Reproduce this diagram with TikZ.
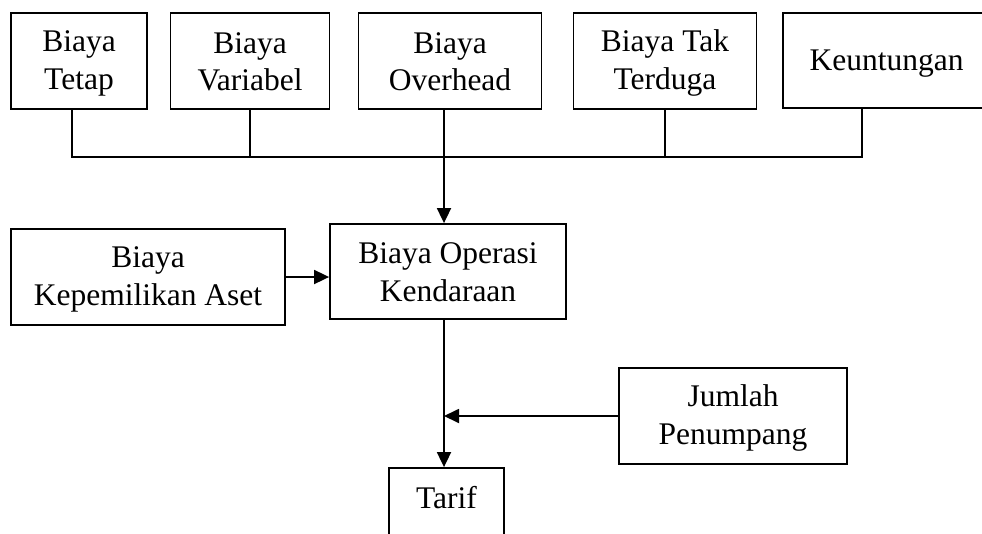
\documentclass[tikz,border=0pt]{standalone}
\usepackage{fontspec}
\setmainfont{Liberation Serif}
\usetikzlibrary{arrows.meta}
\newcommand\linestrut{\rule[-4.5pt]{0pt}{30.5pt}}
\begin{document}
\begin{tikzpicture}[x=1pt,y=-1pt,
  box/.style={draw, line width=1.8pt, minimum height=96pt, align=center,
    font=\fontsize{31.5}{37.5}\selectfont, inner sep=2pt},
  link/.style={line width=1.8pt},
  arr/.style={line width=1.8pt, -{Triangle[length=15pt,width=14pt]}}]
\useasboundingbox (0,0) rectangle (982,533);
\fill[white] (0,0) rectangle (982,533);
\clip (0,0) rectangle (982,533);
% top row
\node[box, minimum width=136pt] (tetap) at (79,61) {\linestrut Biaya\\\linestrut Tetap};
\node[box, minimum width=159pt] (variabel) at (250,61) {\linestrut Biaya\\\linestrut Variabel};
\node[box, minimum width=183pt] (overhead) at (450,61) {\linestrut Biaya\\\linestrut Overhead};
\node[box, minimum width=183pt] (tak) at (665,61) {\linestrut Biaya Tak\\\linestrut Terduga};
\node[box, minimum width=207pt, minimum height=95pt] (untung) at (886.5,60.5) {\linestrut Keuntungan};
% middle
\node[box, minimum width=274pt] (aset) at (148,277) {\linestrut Biaya\\\linestrut Kepemilikan Aset};
\node[box, minimum width=236pt, minimum height=95pt] (bok) at (448,271.5) {\linestrut Biaya Operasi\\\linestrut Kendaraan};
% bottom
\node[box, minimum width=228pt] (jumlah) at (733,416) {\linestrut Jumlah\\\linestrut Penumpang};
\node[box, minimum width=115pt, minimum height=0pt, inner sep=0pt, text height=40pt, text depth=56pt] (tarif) at (446.5,516) {Tarif};
% junctions
\coordinate (j1) at (72,157);
\coordinate (j2) at (250,157);
\coordinate (j3) at (444,157);
\coordinate (j4) at (665,157);
\coordinate (j5) at (862,157);
\coordinate (m) at (444,416);
\draw[link] (tetap.south -| j1) -- (j1) -- (j5) -- (untung.south -| j5);
\draw[link] (variabel.south -| j2) -- (j2);
\draw[link] (overhead.south -| j3) -- (j3);
\draw[link] (tak.south -| j4) -- (j4);
\draw[arr] (j3) -- (bok.north -| j3);
\draw[arr] (aset.east) -- (aset.east -| bok.west);
\draw[arr] (bok.south -| j3) -- (tarif.north -| j3);
\draw[arr] (jumlah.west) -- (m);
\end{tikzpicture}
\end{document}
